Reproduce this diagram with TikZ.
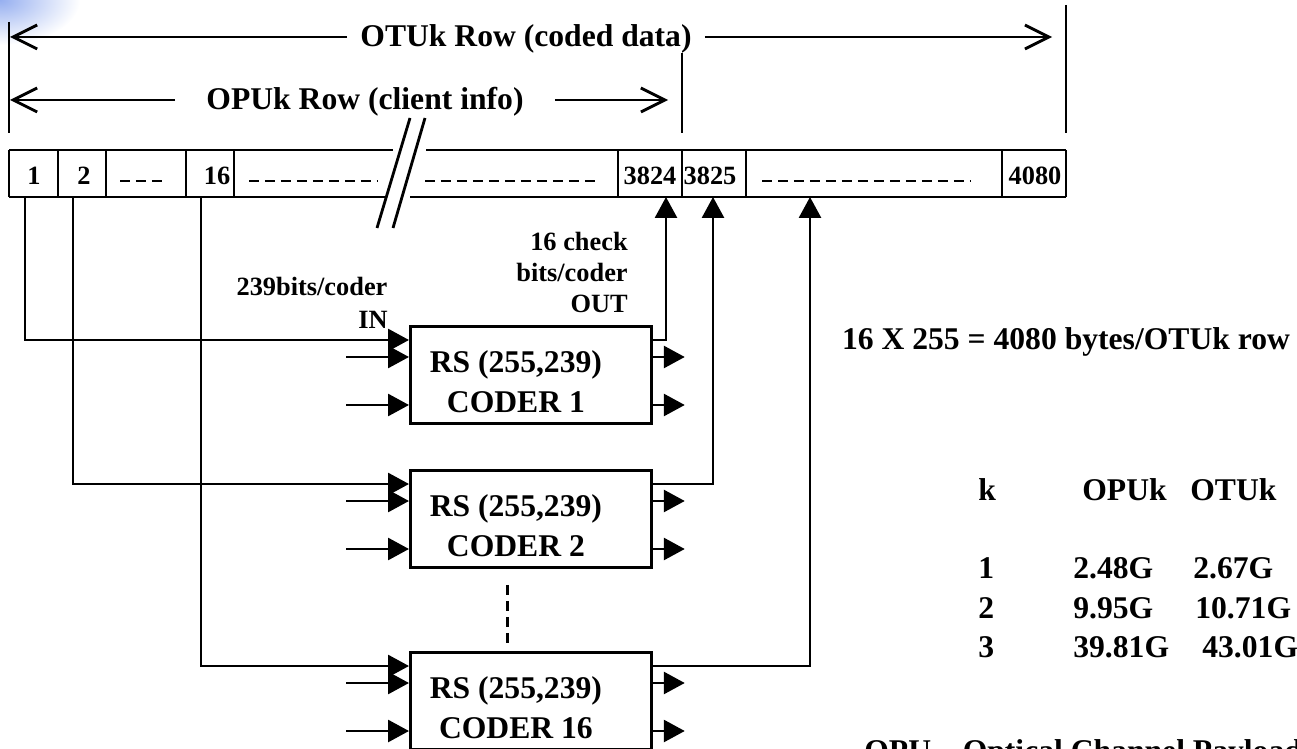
\documentclass[tikz,border=0pt]{standalone}
\usepackage{fontspec}
\setmainfont{Liberation Serif}
\usetikzlibrary{arrows.meta,calc}
\definecolor{slideblue}{RGB}{150,175,240}

\tikzset{
  rule/.style={line width=1.6pt},
  gap/.style={rule,dash pattern=on 5.7pt off 3.4pt},
  span/.style={rule,-{Straight Barb[length=0.48cm,width=0.48cm]}},
  feed/.style={rule,-{Triangle[length=0.42cm,width=0.44cm]}},
  coder/.style={rule,draw,minimum width=4.82cm,minimum height=1.94cm,inner sep=0pt},
  big/.style={font=\fontsize{18}{22.7}\selectfont\bfseries,inner sep=0pt},
  small/.style={font=\fontsize{15}{17.6}\selectfont\bfseries,inner sep=0pt},
}

\begin{document}
\begin{tikzpicture}[x=0.02cm,y=-0.02cm]
  \path[use as bounding box,clip] (0,0) rectangle (1297,749);
  \shade[inner color=slideblue,outer color=white] (0,0) ellipse (80 and 45);

  % row limits
  \draw[rule] (9,22) -- (9,133);
  \draw[rule] (682,53) -- (682,133);
  \draw[rule] (1066,5) -- (1066,133);
  \coordinate (otuL) at (10,37);
  \coordinate (otuR) at (1052,37);
  \coordinate (opuL) at (10,100);
  \coordinate (opuR) at (668,100);
  \node[big,anchor=base,inner xsep=0.26cm] (otu) at (526,47) {OTUk Row (coded data)};
  \node[big,anchor=base,inner xsep=0.62cm] (opu) at (365,110) {OPUk Row (client info)};
  \draw[span] (otu.west |- otuL) -- (otuL);
  \draw[span] (otu.east |- otuR) -- (otuR);
  \draw[span] (opu.west |- opuL) -- (opuL);
  \draw[span] (opu.east |- opuR) -- (opuR);

  % the row of bytes
  \draw[rule] (9,150) -- (393,150) (426,150) -- (1066,150);
  \draw[rule] (9,197) -- (386,197) (410,197) -- (1066,197);
  \foreach \x in {9,58,106,186,234,618,682,746,1002,1066}
    \draw[rule] (\x,150) -- (\x,197);
  \draw[rule] (410,118) -- (377,228) (425,118) -- (393,228);
  \draw[gap] (120,181) -- (167,181) (249,181) -- (378,181)
    (425,181) -- (597,181) (762,181) -- (970,181);
  \node[small,anchor=base] (b1) at (34,185) {1};
  \node[small,anchor=base] (b2) at (84,185) {2};
  \node[small,anchor=base] (b16) at (217,185) {16};
  \node[small,anchor=base] (b3824) at (650,185) {3824};
  \node[small,anchor=base] (b3825) at (710,185) {3825};
  \node[small,anchor=base] (b4080) at (1035,185) {4080};

  \coordinate (t1) at (25,197);
  \coordinate (t2) at (73,197);
  \coordinate (t16) at (201,197);
  \coordinate (u3824) at (666,197);
  \coordinate (u3825) at (713,197);
  \coordinate (uend) at (810,197);

  % coders
  \foreach \cd/\top/\num/\tap/\up in {c1/325/1/t1/u3824, c2/469/2/t2/u3825, c16/651/16/t16/uend} {
    \node[coder,anchor=north west] (\cd) at (409,\top) {};
    \node[big,align=center] (\cd txt) at ($(\cd.center)+(-15,7)$) {RS (255,239)\\CODER \num};
    \coordinate (\cd i1) at ($(\cd.north west)+(0,15)$);
    \coordinate (\cd i2) at ($(\cd.north west)+(0,32)$);
    \coordinate (\cd i3) at ($(\cd.north west)+(0,80)$);
    \coordinate (\cd o1) at ($(\cd.north east)+(0,15)$);
    \coordinate (\cd o2) at ($(\cd.north east)+(0,32)$);
    \coordinate (\cd o3) at ($(\cd.north east)+(0,80)$);
    \draw[feed] (\tap) |- (\cd i1);
    \draw[feed] ($(\cd i2)+(-63,0)$) -- (\cd i2);
    \draw[feed] ($(\cd i3)+(-63,0)$) -- (\cd i3);
    \draw[feed] (\cd o1) -| (\up);
    \draw[feed] (\cd o2) -- +(32,0);
    \draw[feed] (\cd o3) -- +(32,0);
  }
  \draw[gap] ($(c2.south)+(-23.5,16)$) -- ($(c16.north)+(-23.5,-6)$);

  \node[small,anchor=base] (inrate) at (312,296) {239bits/coder};
  \node[small,anchor=base east] (inword) at (388,329) {IN};
  \node[small,anchor=base east] (chk) at (628,251) {16 check};
  \node[small,anchor=base east] (chkrate) at (628,282) {bits/coder};
  \node[small,anchor=base east] (outword) at (628,313) {OUT};
  \node[big,anchor=base] (rowsum) at (1066,350) {16 X 255 = 4080 bytes/OTUk row};

  % rates
  \node[big,anchor=base west] (hk) at (978,500) {k};
  \node[big,anchor=base west] (hopu) at (1082,500) {OPUk};
  \node[big,anchor=base west] (hotu) at (1190,500) {OTUk};
  \node[big,anchor=base west] (k1) at (978,578) {1};
  \node[big,anchor=base west] (opu1) at (1073,578) {2.48G};
  \node[big,anchor=base west] (otu1) at (1193,578) {2.67G};
  \node[big,anchor=base west] (k2) at (978,618) {2};
  \node[big,anchor=base west] (opu2) at (1073,618) {9.95G};
  \node[big,anchor=base west] (otu2) at (1195,618) {10.71G};
  \node[big,anchor=base west] (k3) at (978,657) {3};
  \node[big,anchor=base west] (opu3) at (1073,657) {39.81G};
  \node[big,anchor=base west] (otu3) at (1202,657) {43.01G};
  \node[big,anchor=base west] (opunote) at (864,761) {OPU -- Optical Channel Payload};
\end{tikzpicture}
\end{document}
